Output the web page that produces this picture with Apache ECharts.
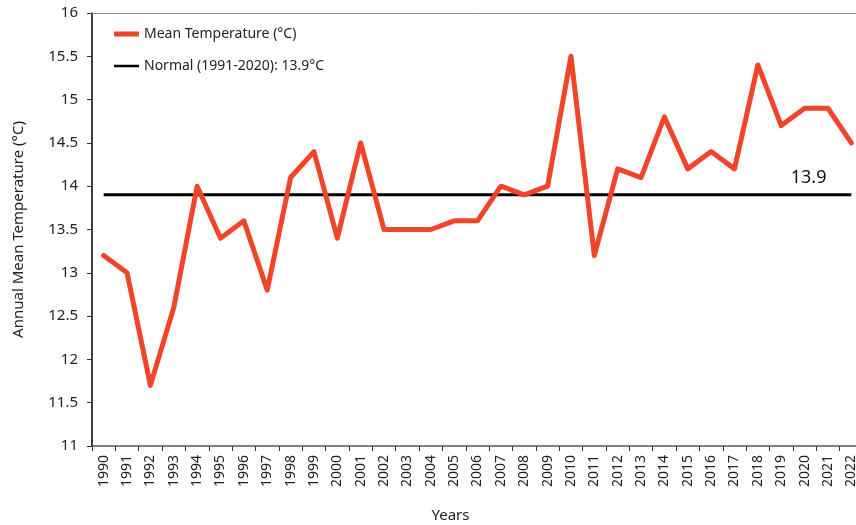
<!DOCTYPE html>
<html><head><meta charset="utf-8">
<script src="https://cdn.jsdelivr.net/npm/echarts@6/dist/echarts.min.js"></script>
<style>html,body{margin:0;padding:0;background:#fff}#c{width:856px;height:525px}</style>
</head><body><div id="c"></div>
<script>
const years = ['1990','1991','1992','1993','1994','1995','1996','1997','1998','1999','2000','2001','2002','2003','2004','2005','2006','2007','2008','2009','2010','2011','2012','2013','2014','2015','2016','2017','2018','2019','2020','2021','2022'];
const meanTemp = [13.2,13.0,11.7,12.6,14.0,13.4,13.6,12.8,14.1,14.4,13.4,14.5,13.5,13.5,13.5,13.6,13.6,14.0,13.9,14.0,15.5,13.2,14.2,14.1,14.8,14.2,14.4,14.2,15.4,14.7,14.9,14.9,14.5];
const normalValue = 13.9;
const normalLine = years.map(() => normalValue);
const normalLabelYear = '2020';
const yTicks = { min: 11, max: 16, interval: 0.5 };

const font = '"Noto Sans", sans-serif';
const chart = echarts.init(document.getElementById('c'));
chart.setOption({
  animation: false,
  textStyle: { fontFamily: font },
  grid: { left: 92, width: 771, top: 13, bottom: 79, containLabel: false, outerBoundsMode: 'none' },
  legend: {
    orient: 'vertical', left: 109, top: 22, itemGap: 18,
    itemWidth: 25, itemHeight: 14,
    textStyle: { fontSize: 14, color: '#222', fontFamily: font },
    data: [
      { name: 'Mean Temperature (°C)', icon: 'path://M0,0 L30,0 L30,6 L0,6 Z', itemStyle: { color: '#F04528' } },
      { name: 'Normal (1991-2020): 13.9°C', icon: 'path://M0,0 L30,0 L30,3 L0,3 Z', itemStyle: { color: '#000' } }
    ]
  },
  xAxis: [{
    type: 'category', data: years, boundaryGap: true,
    name: 'Years', nameLocation: 'middle', nameGap: 62,
    nameTextStyle: { fontSize: 15, color: '#222', fontFamily: font, padding: [0, 54, 0, 0] },
    axisLine: { lineStyle: { color: '#555', width: 1.5 } },
    axisTick: { show: true, alignWithLabel: false, length: 5, lineStyle: { color: '#333' } },
    axisLabel: { rotate: 90, fontSize: 14, color: '#222', margin: 9, interval: 0, fontFamily: font }
  }, {
    type: 'category', data: years, position: 'top',
    axisLine: { lineStyle: { color: '#888', width: 1 } },
    axisTick: { show: false }, axisLabel: { show: false }
  }],
  yAxis: {
    type: 'value', min: yTicks.min, max: yTicks.max, interval: yTicks.interval,
    name: 'Annual Mean Temperature (°C)', nameLocation: 'middle', nameGap: 66,
    nameTextStyle: { fontSize: 15, color: '#222', fontFamily: font },
    axisLine: { show: true, lineStyle: { color: '#000', width: 1.5 } },
    axisTick: { show: true, length: 5, lineStyle: { color: '#333' } },
    axisLabel: { fontSize: 15, color: '#222', margin: 14, fontFamily: font },
    splitLine: { show: false }
  },
  series: [{
    name: 'Normal (1991-2020): 13.9°C', type: 'line', data: normalLine,
    symbol: 'none', lineStyle: { color: '#000', width: 3 }, itemStyle: { color: '#000' },
    markPoint: {
      symbol: 'circle', symbolSize: 0,
      data: [{ coord: [normalLabelYear, normalValue], value: normalValue }],
      label: { show: true, position: 'top', offset: [4, -3], fontSize: 18, color: '#111', fontFamily: font, formatter: () => '13.9' }
    },
    z: 2
  }, {
    name: 'Mean Temperature (°C)', type: 'line', data: meanTemp,
    symbol: 'none', lineStyle: { color: '#F04528', width: 5, cap: 'round', join: 'round' }, itemStyle: { color: '#F04528' },
    z: 3
  }]
});
</script></body></html>
